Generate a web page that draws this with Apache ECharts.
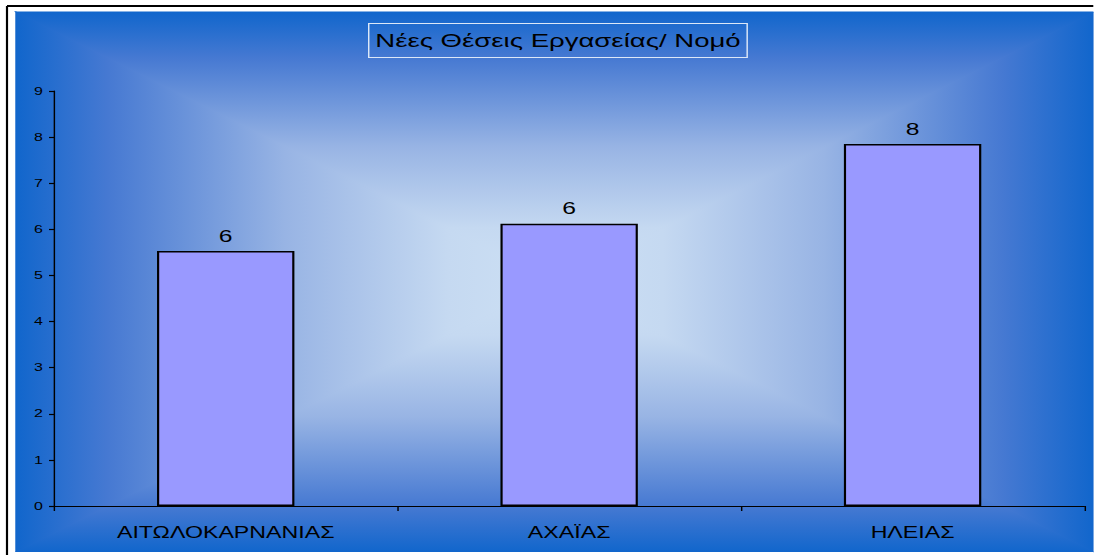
<!DOCTYPE html>
<html>
<head>
<meta charset="utf-8">
<script src="https://cdn.jsdelivr.net/npm/echarts@6/dist/echarts.min.js"></script>
<style>
html,body{margin:0;padding:0;background:#fff;overflow:hidden;}
#wrap{width:1094px;height:555px;position:relative;overflow:hidden;}
#c{position:absolute;left:0;top:0;height:555px;transform-origin:0 0;}
</style>
</head>
<body>
<div id="wrap"><div id="c"></div></div>
<script>
var categories = ['ΑΙΤΩΛΟΚΑΡΝΑΝΙΑΣ', 'ΑΧΑΪΑΣ', 'ΗΛΕΙΑΣ'];
var values = [5.53, 6.12, 7.85];
var yTicks = [0, 1, 2, 3, 4, 5, 6, 7, 8, 9];
var titleText = 'Νέες Θέσεις Εργασείας/ Νομό';

// the reference picture is horizontally stretched; render narrower and stretch the same way
var S = 1.45;
var W = 1094 / S;
var el = document.getElementById('c');
el.style.width = W + 'px';
el.style.transform = 'scaleX(' + S + ')';

var FONT = 'Liberation Sans, Arial, sans-serif';
var stops = [
  {offset: 0, color: '#1166cc'},
  {offset: 0.17, color: '#4679d2'},
  {offset: 0.5, color: '#98b4e4'},
  {offset: 0.8, color: '#c5d9f1'},
  {offset: 1, color: '#cde0f4'}
];
function lg(x, y, x2, y2) {
  return {type: 'linear', x: x, y: y, x2: x2, y2: y2, colorStops: stops};
}
var L = 16 / S, T = 12, R = W, B = 552, CX = (L + R) / 2, CY = (T + B) / 2;
function tri(pts, g) {
  return {type: 'polygon', z: -9, shape: {points: pts}, style: {fill: g, stroke: g, lineWidth: 1}};
}

var chart = echarts.init(el, null, {renderer: 'svg'});
chart.setOption({
  backgroundColor: '#ffffff',
  animation: false,
  graphic: [
    {type: 'rect', z: -10, shape: {x: L, y: T, width: R - L, height: B - T}, style: {fill: '#6f95da'}},
    tri([[L, T], [R, T], [CX, CY]], lg(0, 0, 0, 1)),
    tri([[L, B], [R, B], [CX, CY]], lg(0, 1, 0, 0)),
    tri([[L, T], [L, B], [CX, CY]], lg(0, 0, 1, 0)),
    tri([[R, T], [R, B], [CX, CY]], lg(1, 0, 0, 0)),
    {type: 'rect', z: -8, shape: {x: 0, y: B, width: W, height: 555 - B}, style: {fill: '#fff'}},
    {type: 'line', z: -7, shape: {x1: 7 / S, y1: 6, x2: W, y2: 6}, style: {stroke: '#000', lineWidth: 2}},
    {type: 'line', z: -7, shape: {x1: 7 / S, y1: 6, x2: 7 / S, y2: 555}, style: {stroke: '#000', lineWidth: 1.5}}
  ],
  title: {
    text: titleText,
    left: 368 / S,
    top: 23,
    padding: [8, 5, 8, 5],
    borderColor: '#dce8f8',
    borderWidth: 1,
    textStyle: {fontFamily: FONT, fontSize: 19, fontWeight: 'normal', color: '#000'}
  },
  grid: {left: 54 / S, right: 9 / S, top: 91, bottom: 49, containLabel: false},
  xAxis: {
    type: 'category',
    data: categories,
    axisLine: {lineStyle: {color: '#000', width: 1.2}},
    axisTick: {show: true, length: 5, alignWithLabel: false, lineStyle: {color: '#000'}},
    axisLabel: {margin: 18, fontFamily: FONT, fontSize: 16, color: '#000'},
    splitLine: {show: false}
  },
  yAxis: {
    type: 'value',
    min: 0,
    max: 9,
    interval: 1,
    axisLine: {show: true, lineStyle: {color: '#000', width: 1}},
    axisTick: {show: true, length: 5 / S, lineStyle: {color: '#000', width: 1.2}},
    axisLabel: {margin: 11 / S, fontFamily: FONT, fontSize: 11, color: '#000',
      formatter: function (v) { return yTicks.indexOf(v) >= 0 ? String(v) : ''; }},
    splitLine: {show: false}
  },
  series: [{
    type: 'bar',
    data: values,
    barWidth: '40%',
    itemStyle: {color: '#9999ff', borderColor: '#000', borderWidth: 1.5},
    label: {
      show: true,
      position: 'top',
      distance: 7,
      fontFamily: FONT,
      fontSize: 17,
      color: '#000',
      formatter: function (p) { return String(Math.round(p.value)); }
    }
  }]
});
</script>
</body>
</html>
